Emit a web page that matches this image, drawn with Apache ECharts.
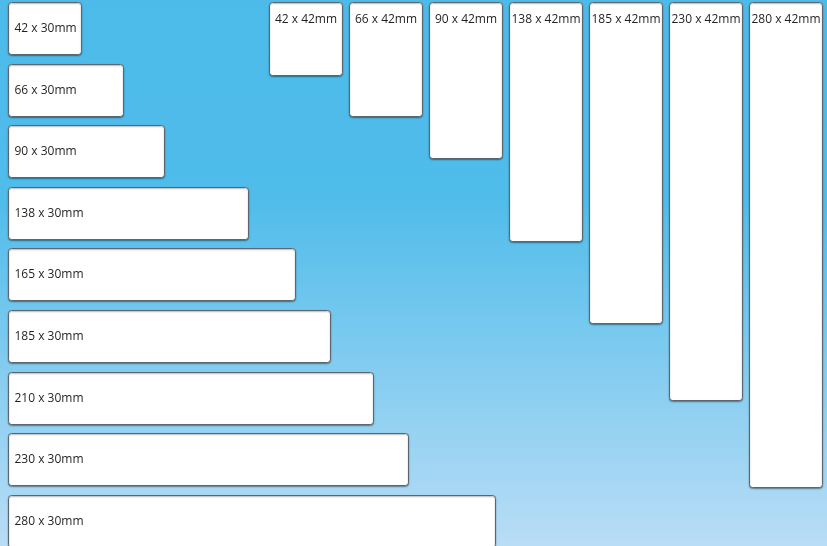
<!DOCTYPE html>
<html>
<head>
<meta charset="utf-8">
<script src="https://cdn.jsdelivr.net/npm/echarts@6/dist/echarts.min.js"></script>
<style>html,body{margin:0;padding:0;}#c{width:827px;height:546px;}</style>
</head>
<body>
<div id="c"></div>
<script>
// Label sizes in mm
const landscapeLengths = [42, 66, 90, 138, 165, 185, 210, 230, 280];
const landscapeHeight = 30;
const portraitLengths = [42, 66, 90, 138, 185, 230, 280];
const portraitWidth = 42;

// layout constants (mm)
const rowStep = 35.55;
const colStart = 150;
const colStep = 46;

const rects = [];
landscapeLengths.forEach((L, i) => {
  rects.push({ value: [0, i * rowStep, L, landscapeHeight], name: L + ' x ' + landscapeHeight + 'mm', kind: 'h' });
});
portraitLengths.forEach((L, i) => {
  rects.push({ value: [colStart + i * colStep, 0, portraitWidth, L], name: L + ' x ' + portraitWidth + 'mm', kind: 'v' });
});

const chart = echarts.init(document.getElementById('c'));
chart.setOption({
  animation: false,
  backgroundColor: {
    type: 'linear', x: 0, y: 0, x2: 0, y2: 1,
    colorStops: [
      { offset: 0, color: '#4dbbea' },
      { offset: 0.36, color: '#4fbcea' },
      { offset: 1, color: '#b9ddf6' }
    ]
  },
  grid: { left: 8, right: 2, top: 2, height: 544 },
  xAxis: { type: 'value', min: 0, max: 470, show: false },
  yAxis: { type: 'value', min: 0, max: 314, inverse: true, show: false },
  series: [{
    type: 'custom',
    clip: false,
    data: rects,
    renderItem: function (params, api) {
      const item = rects[params.dataIndex];
      const p0 = api.coord([api.value(0), api.value(1)]);
      const p1 = api.coord([api.value(0) + api.value(2), api.value(1) + api.value(3)]);
      const x = Math.round(p0[0]) + 0.5, y = Math.round(p0[1]) + 0.5;
      const w = Math.round(p1[0] - p0[0]), h = Math.round(p1[1] - p0[1]);
      const isH = item.kind === 'h';
      return {
        type: 'group',
        children: [{
          type: 'rect',
          shape: { x: x, y: y, width: w, height: h, r: 3 },
          style: {
            fill: '#ffffff', stroke: '#5b6670', lineWidth: 1,
            shadowBlur: 1.5, shadowOffsetY: 1, shadowColor: 'rgba(0,0,0,0.35)'
          }
        }, {
          type: 'text',
          style: {
            text: item.name,
            x: isH ? x + 6 : x + w / 2,
            y: isH ? y + h / 2 : y + 17,
            align: isH ? 'left' : 'center',
            verticalAlign: 'middle',
            fill: '#231f20',
            font: '12px "Open Sans", sans-serif'
          }
        }]
      };
    }
  }]
});
</script>
</body>
</html>
